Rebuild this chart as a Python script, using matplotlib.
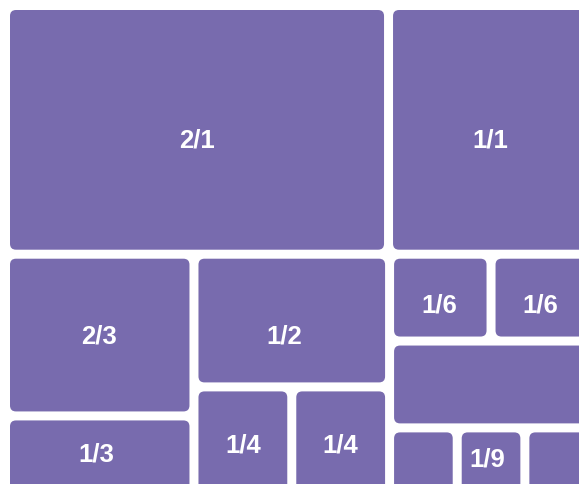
import matplotlib
matplotlib.use("Agg")
import matplotlib.pyplot as plt
from matplotlib.patches import FancyBboxPatch

# node sizes (labels are the node names)
row1_names = ["2/1", "1/1"]
row1_values = [2.00, 1.065]

colA_names = ["2/3", "1/3"]
colA_values = [0.64, 0.39]

colB_top_names = ["1/2"]
colB_top_values = [0.545]
colB_bottom_names = ["1/4", "1/4"]
colB_bottom_values = [0.262, 0.262]

colC_top_names = ["1/6", "1/6"]
colC_top_values = [0.185, 0.185]
colC_mid_names = [""]
colC_mid_values = [0.37]
colC_bottom_names = ["", "1/9", ""]
colC_bottom_values = [0.123, 0.123, 0.123]

# label nudges in pixels (dx, dy), same order as the leaves are drawn
label_nudge = [(0, 11), (0, 11),
               (-1, 1), (-3, -10.5),
               (-8, 16), (0, -5.5), (0, -5.5),
               (-1, 7.5), (-2, 7.5), (0, 0),
               (0, 0), (-4, -11.5), (0, 0)]


def leaves(names, values, direction):
    return {"dir": direction, "children": [{"name": n, "value": v} for n, v in zip(names, values)]}


def total(node):
    if "children" in node:
        return sum(total(c) for c in node["children"])
    return node["value"]


tree = {"dir": "v", "children": [
    leaves(row1_names, row1_values, "h"),
    {"dir": "h", "children": [
        leaves(colA_names, colA_values, "v"),
        {"dir": "v", "children": [
            leaves(colB_top_names, colB_top_values, "h"),
            leaves(colB_bottom_names, colB_bottom_values, "h"),
        ]},
        {"dir": "v", "children": [
            leaves(colC_top_names, colC_top_values, "h"),
            leaves(colC_mid_names, colC_mid_values, "h"),
            leaves(colC_bottom_names, colC_bottom_values, "h"),
        ]},
    ]},
]}


def layout(node, x0, y0, x1, y1, out):
    if "children" not in node:
        out.append((node["name"], x0, y0, x1, y1))
        return
    t = total(node)
    pos = x0 if node["dir"] == "h" else y0
    for c in node["children"]:
        frac = total(c) / t
        if node["dir"] == "h":
            w = (x1 - x0) * frac
            layout(c, pos, y0, pos + w, y1, out)
        else:
            w = (y1 - y0) * frac
            layout(c, x0, pos, x1, pos + w, out)
        pos += w


W, H = 579, 484
fig = plt.figure(figsize=(W / 100, H / 100), dpi=100)
ax = fig.add_axes([0, 0, 1, 1])
ax.set_xlim(0, W)
ax.set_ylim(H, 0)
ax.axis("off")

gap = 9
color = "#786BAE"
cells = []
layout(tree, 5.5, 5.5, 592.5, 514.5, cells)

for (name, x0, y0, x1, y1), (dx, dy) in zip(cells, label_nudge):
    bx0, by0 = x0 + gap / 2, y0 + gap / 2
    bw, bh = (x1 - x0) - gap, (y1 - y0) - gap
    ax.add_patch(FancyBboxPatch((bx0, by0), bw, bh,
                                boxstyle="round,pad=0,rounding_size=6",
                                facecolor=color, edgecolor="none"))
    if name:
        ax.text(bx0 + bw / 2 + dx, by0 + bh / 2 + dy, name, color="white",
                fontsize=18.5, fontweight="bold", family="Liberation Sans",
                ha="center", va="center")

fig.savefig("out.png", dpi=100)
